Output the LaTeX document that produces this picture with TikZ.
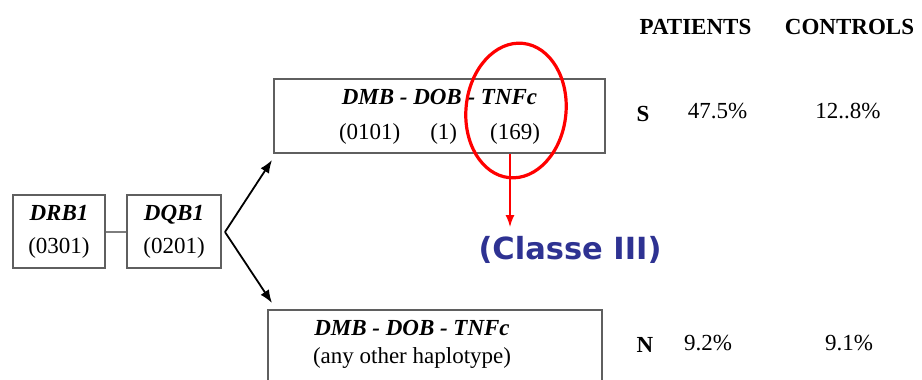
\documentclass[tikz,border=0pt]{standalone}
\usepackage{fontspec}
\setmainfont{Liberation Serif}
\newfontfamily\classefont{DejaVu Sans}
\usetikzlibrary{arrows.meta,shapes.geometric}
\definecolor{boxgray}{RGB}{95,95,95}
\definecolor{linkgray}{RGB}{125,125,125}
\definecolor{classeblue}{RGB}{46,50,146}
\tikzset{
  genebox/.style={draw=boxgray, line width=1.6pt, inner sep=0pt, align=center,
    font=\fontsize{23}{33}\selectfont},
  haplobox/.style={draw=boxgray, line width=2pt, inner sep=0pt},
  plain/.style={inner sep=0pt, font=\fontsize{23}{28}\selectfont},
  branch/.style={line width=1.8pt, -{Latex[length=13pt,width=10pt]}},
  marker/.style={draw=red, line width=3.2pt, ellipse, inner sep=0pt},
  pointer/.style={red, line width=1.4pt, -{Latex[length=12pt,width=9pt]}},
}
\begin{document}
\begin{tikzpicture}[x=1pt,y=-1pt]
\useasboundingbox (0,0) rectangle (922,380);

% class II genes
\node[genebox, minimum width=92pt, minimum height=73pt] (drb) at (59,231.5)
  {\textbf{\textit{DRB1}}\\(0301)};
\node[genebox, minimum width=94pt, minimum height=73pt] (dqb) at (174,231.5)
  {\textbf{\textit{DQB1}}\\(0201)};
\draw[linkgray, line width=2pt] (drb.east) -- (dqb.west);

% susceptible haplotype
\node[haplobox, minimum width=331pt, minimum height=74pt] (sbox) at (439.5,115.5) {};
\node[plain, align=center, font=\fontsize{23}{35}\selectfont] (stext) at (439.5,117)
  {\textbf{\textit{DMB - DOB - TNFc}}\\(0101)\hspace{30pt}(1)\hspace{33pt}(169)};

% any other haplotype
\node[haplobox, minimum width=334pt, minimum height=100pt] (nbox) at (435,360) {};
\node[plain, align=center] (ntext) at (412,344)
  {\textbf{\textit{DMB - DOB - TNFc}}\\(any other haplotype)};

% branching arrows
\coordinate (fork) at (225,232);
\coordinate (uptip) at (272,160);
\coordinate (downtip) at (272,303);
\draw[branch] (fork) -- (uptip);
\draw[branch] (fork) -- (downtip);

% TNFc highlight
\node[marker, minimum width=100pt, minimum height=135pt, rotate=-6] (hl) at (516,110.5) {};
\coordinate (mark) at (510,154);
\coordinate (ctip) at (510,227);
\draw[pointer] (mark) -- (ctip);
\node[inner sep=0pt, text=classeblue, font=\classefont\bfseries\fontsize{30.5}{30.5}\selectfont]
  (classe) at (570,250) {(Classe III)};

% frequency table
\node[plain, font=\bfseries\fontsize{23}{28}\selectfont] (pat) at (695.5,27) {PATIENTS};
\node[plain, font=\bfseries\fontsize{23}{28}\selectfont] (con) at (849.5,27) {CONTROLS};
\node[plain, font=\bfseries\fontsize{23}{28}\selectfont] (srow) at (643,114) {S};
\node[plain] (sp) at (717.5,111) {47.5\%};
\node[plain] (sc) at (848,111) {12..8\%};
\node[plain, font=\bfseries\fontsize{23}{28}\selectfont] (nrow) at (645,345) {N};
\node[plain] (np) at (708,343) {9.2\%};
\node[plain] (nc) at (849,343) {9.1\%};
\end{tikzpicture}
\end{document}
